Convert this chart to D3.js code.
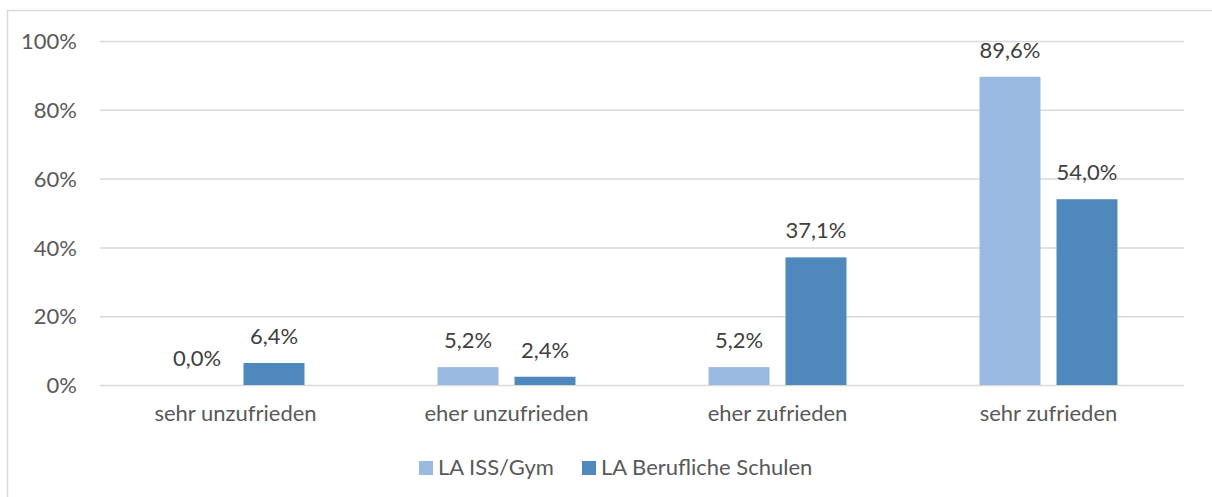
<!DOCTYPE html>
<html>
<head>
<meta charset="utf-8">
<script src="https://cdn.jsdelivr.net/npm/d3@7"></script>
<style>
  body { margin: 0; background: #fff; }
  svg { display: block; }
</style>
</head>
<body>
<svg width="1212" height="497"></svg>
<script>
const categories = ['sehr unzufrieden', 'eher unzufrieden', 'eher zufrieden', 'sehr zufrieden'];
const seriesNames = ['LA ISS/Gym', 'LA Berufliche Schulen'];
const issGym = [0.0, 5.2, 5.2, 89.6];
const beruflich = [6.4, 2.4, 37.1, 54.0];
const yTicks = [0, 20, 40, 60, 80, 100];
const colors = ['#9ab9e0', '#4f88bd'];
const fontFamily = 'Lato, "Open Sans", sans-serif';

const svg = d3.select('svg');
const margin = { left: 100, right: 28, top: 41, bottom: 112 };
const width = +svg.attr('width');
const height = +svg.attr('height');
const innerWidth = width - margin.left - margin.right;
const innerHeight = height - margin.top - margin.bottom;

// chart frame: only the top and left edges show in the source
svg.append('path')
  .attr('d', `M7.5,${height}V10.5H${width}`)
  .attr('fill', 'none')
  .attr('stroke', '#d9d9d9')
  .attr('stroke-width', 1.5);

const g = svg.append('g')
  .attr('transform', `translate(${margin.left},${margin.top})`);

const xScale = d3.scaleBand()
  .domain(categories)
  .range([0, innerWidth])
  .padding(0);

const xSub = d3.scaleBand()
  .domain(seriesNames)
  .range([0, xScale.bandwidth()])
  .paddingInner(16 / 77)
  .paddingOuter(0.864);

const yScale = d3.scaleLinear()
  .domain([0, 100])
  .range([innerHeight, 0]);

const yAxis = d3.axisLeft(yScale)
  .tickValues(yTicks)
  .tickFormat(d => d + '%')
  .tickSize(-innerWidth)
  .tickPadding(23);

const yAxisG = g.append('g').call(yAxis)
  .attr('font-size', 22)
  .attr('font-family', fontFamily);
yAxisG.select('.domain').remove();
yAxisG.selectAll('.tick line')
  .attr('stroke', '#d9d9d9')
  .attr('stroke-width', 1.5);
yAxisG.selectAll('.tick text')
  .attr('fill', '#595959')
  .attr('dy', '0.35em');

const xAxis = d3.axisBottom(xScale)
  .tickSize(0)
  .tickPadding(20);

const xAxisG = g.append('g')
  .attr('transform', `translate(0,${innerHeight})`)
  .call(xAxis)
  .attr('font-size', 22)
  .attr('font-family', fontFamily);
xAxisG.select('.domain').remove();
xAxisG.selectAll('.tick text').attr('fill', '#595959');

const data = categories.map((c, i) => ({
  category: c,
  values: [
    { series: seriesNames[0], value: issGym[i], color: colors[0] },
    { series: seriesNames[1], value: beruflich[i], color: colors[1] }
  ]
}));

const groups = g.selectAll('g.group')
  .data(data)
  .enter().append('g')
  .attr('class', 'group')
  .attr('transform', d => `translate(${xScale(d.category)},0)`);

groups.selectAll('rect')
  .data(d => d.values)
  .enter().append('rect')
  .attr('x', d => xSub(d.series))
  .attr('y', d => yScale(d.value))
  .attr('width', xSub.bandwidth())
  .attr('height', d => innerHeight - yScale(d.value))
  .attr('fill', d => d.color);

groups.selectAll('text.value')
  .data(d => d.values)
  .enter().append('text')
  .attr('class', 'value')
  .attr('x', d => xSub(d.series) + xSub.bandwidth() / 2)
  .attr('y', d => yScale(d.value) - 19)
  .attr('text-anchor', 'middle')
  .attr('fill', '#404040')
  .attr('font-size', 22)
  .attr('font-family', fontFamily)
  .text(d => d.value.toFixed(1).replace('.', ',') + '%');

// legend
const legendX = [419, 582];
const legend = svg.append('g')
  .attr('font-size', 22)
  .attr('font-family', fontFamily);
seriesNames.forEach((name, i) => {
  legend.append('rect')
    .attr('x', legendX[i]).attr('y', 461)
    .attr('width', 14).attr('height', 14)
    .attr('fill', colors[i]);
  legend.append('text')
    .attr('x', legendX[i] + 19).attr('y', 475)
    .attr('fill', '#595959')
    .text(name);
});
</script>
</body>
</html>
